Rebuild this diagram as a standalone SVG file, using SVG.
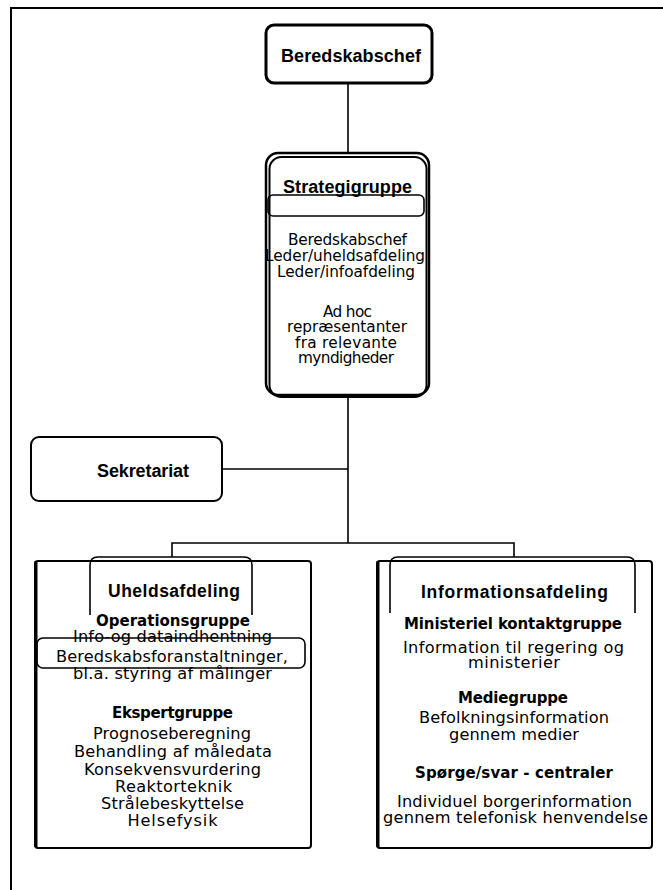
<svg xmlns="http://www.w3.org/2000/svg" width="663" height="890" viewBox="0 0 663 890">
<style>
text{font-family:"Liberation Sans",Arial,sans-serif;fill:#000;text-anchor:middle}
.t{font-weight:bold;font-size:18px}
.h{font-weight:bold;font-size:17.5px}
.s{font-family:"DejaVu Sans",sans-serif;font-weight:bold;font-size:15px}
.r{font-family:"DejaVu Sans",sans-serif;font-size:16.2px}
.u{font-family:"DejaVu Sans",sans-serif;font-size:15.3px}
.ln{fill:none;stroke:#000;stroke-width:1.6}
.bx{fill:#fff;stroke:#000}
</style>
<rect width="663" height="890" fill="#fff"/>
<path d="M11,890 V8 H663" fill="none" stroke="#000" stroke-width="2"/>
<g id="connectors" class="ln">
<line x1="348" y1="83" x2="348" y2="154"/>
<line x1="348" y1="397" x2="348" y2="543"/>
<line x1="222" y1="469" x2="348" y2="469"/>
<polyline points="172,557 172,543 514,543 514,557"/>
</g>
<g id="beredskabschef">
<rect class="bx" x="266" y="25" width="166" height="58" rx="8" stroke-width="3"/>
<text class="t" x="351" y="62" textLength="140" lengthAdjust="spacing">Beredskabschef</text>
</g>
<g id="strategigruppe">
<rect class="bx" x="266" y="153" width="163" height="242" rx="12" stroke-width="2.5"/>
<rect x="269.5" y="157" width="157" height="240" rx="12" fill="none" stroke="#000" stroke-width="2"/>
<rect x="268" y="195" width="156" height="21" rx="5" fill="none" stroke="#000" stroke-width="1.6"/>
<text class="t" x="347.5" y="193" textLength="129" lengthAdjust="spacing">Strategigruppe</text>
<text class="u" x="347.5" y="245" textLength="119" lengthAdjust="spacing">Beredskabschef</text>
<text class="u" x="345" y="261" textLength="160" lengthAdjust="spacing">Leder/uheldsafdeling</text>
<text class="u" x="346" y="277" textLength="138" lengthAdjust="spacing">Leder/infoafdeling</text>
<text class="u" x="347.5" y="317" textLength="49" lengthAdjust="spacing">Ad hoc</text>
<text class="u" x="347" y="332" textLength="120" lengthAdjust="spacing">repræsentanter</text>
<text class="u" x="346" y="348" textLength="102" lengthAdjust="spacing">fra relevante</text>
<text class="u" x="346" y="363" textLength="96" lengthAdjust="spacing">myndigheder</text>
</g>
<g id="sekretariat">
<rect class="bx" x="31" y="437" width="191" height="64" rx="8" stroke-width="2"/>
<text class="t" x="143" y="477" textLength="92" lengthAdjust="spacing">Sekretariat</text>
</g>
<g id="uheldsafdeling">
<rect class="bx" x="35" y="561" width="276" height="287" rx="3" stroke-width="2"/>
<line x1="36" y1="561" x2="36" y2="847" stroke="#000" stroke-width="3"/>
<path d="M90,615 V565 Q90,557 98,557 H244 Q252,557 252,565 V615" fill="none" stroke="#000" stroke-width="1.6"/>
<rect x="37" y="638" width="268" height="30" rx="6" fill="none" stroke="#000" stroke-width="1.6"/>
<text class="h" x="174" y="597" textLength="132" lengthAdjust="spacing">Uheldsafdeling</text>
<text class="s" x="173" y="626" textLength="154" lengthAdjust="spacing">Operationsgruppe</text>
<text class="r" x="172.5" y="642" textLength="199" lengthAdjust="spacing">Info-og dataindhentning</text>
<text class="r" x="172" y="662" textLength="232" lengthAdjust="spacing">Beredskabsforanstaltninger,</text>
<text class="r" x="172.5" y="679" textLength="199" lengthAdjust="spacing">bl.a. styring af målinger</text>
<text class="s" x="172.5" y="718" textLength="121" lengthAdjust="spacing">Ekspertgruppe</text>
<text class="r" x="172" y="739" textLength="158" lengthAdjust="spacing">Prognoseberegning</text>
<text class="r" x="173" y="757" textLength="198" lengthAdjust="spacing">Behandling af måledata</text>
<text class="r" x="172.5" y="775" textLength="177" lengthAdjust="spacing">Konsekvensvurdering</text>
<text class="r" x="173.5" y="792" textLength="117" lengthAdjust="spacing">Reaktorteknik</text>
<text class="r" x="172.5" y="809" textLength="143" lengthAdjust="spacing">Strålebeskyttelse</text>
<text class="r" x="172.5" y="826" textLength="90" lengthAdjust="spacing">Helsefysik</text>
</g>
<g id="informationsafdeling">
<rect class="bx" x="377" y="561" width="275" height="287" rx="3" stroke-width="2"/>
<line x1="378" y1="561" x2="378" y2="847" stroke="#000" stroke-width="3"/>
<path d="M390,613 V565 Q390,557 398,557 H627 Q635,557 635,565 V613" fill="none" stroke="#000" stroke-width="1.6"/>
<text class="h" x="514.5" y="598" textLength="187" lengthAdjust="spacing">Informationsafdeling</text>
<text class="s" x="513" y="629" textLength="218" lengthAdjust="spacing">Ministeriel kontaktgruppe</text>
<text class="r" x="513.5" y="653" textLength="221" lengthAdjust="spacing">Information til regering og</text>
<text class="r" x="514" y="668" textLength="92" lengthAdjust="spacing">ministerier</text>
<text class="s" x="513" y="703" textLength="110" lengthAdjust="spacing">Mediegruppe</text>
<text class="r" x="514" y="723" textLength="190" lengthAdjust="spacing">Befolkningsinformation</text>
<text class="r" x="514" y="740" textLength="130" lengthAdjust="spacing">gennem medier</text>
<text class="s" x="514" y="778" textLength="198" lengthAdjust="spacing">Spørge/svar - centraler</text>
<text class="r" x="514.5" y="807" textLength="235" lengthAdjust="spacing">Individuel borgerinformation</text>
<text class="r" x="515.5" y="823" textLength="265" lengthAdjust="spacing">gennem telefonisk henvendelse</text>
</g>
</svg>
